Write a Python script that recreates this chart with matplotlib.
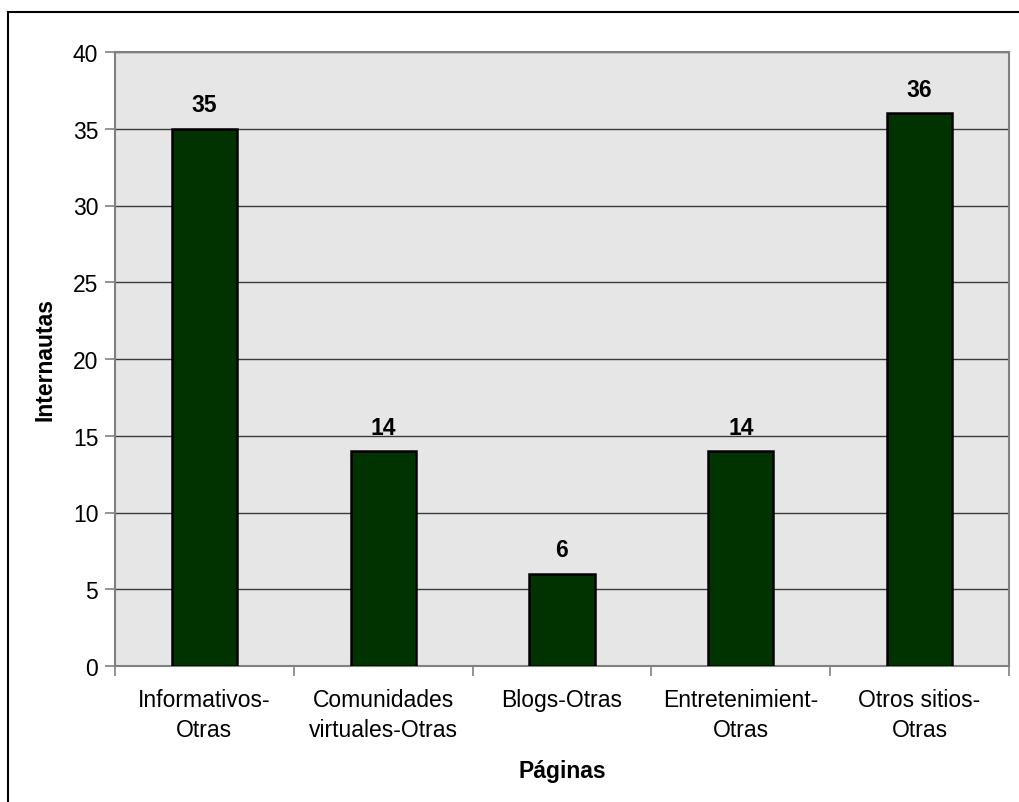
import matplotlib
matplotlib.use("Agg")
import matplotlib.pyplot as plt
from matplotlib.patches import Rectangle
from matplotlib.ticker import FixedLocator
import numpy as np

categories = ["Informativos-\nOtras", "Comunidades\nvirtuales-Otras", "Blogs-Otras",
              "Entretenimient-\nOtras", "Otros sitios-\nOtras"]
values = [35, 14, 6, 14, 36]
y_ticks = [0, 5, 10, 15, 20, 25, 30, 35, 40]

plt.rcParams['font.family'] = ['Liberation Sans', 'DejaVu Sans']

fig = plt.figure(figsize=(10.19, 8.03), dpi=100)
fig.patches.append(Rectangle((8/1019, -0.05), 1.2, 1 - 13/803 + 0.05,
                             transform=fig.transFigure, fill=False,
                             edgecolor='black', linewidth=1.5))

ax = fig.add_axes([115/1019, 1 - 667/803, 894/1019, 614/803])
ax.set_facecolor('#e6e6e6')
x = np.arange(len(categories))
ax.bar(x, values, width=0.365, color='#003300', edgecolor='black', linewidth=1.8, zorder=3)

ax.set_xlim(-0.5, len(categories) - 0.5)
ax.set_ylim(0, 40)
ax.set_yticks(y_ticks)
ax.yaxis.grid(True, color='#3a3a3a', linewidth=1.0, zorder=1)
ax.set_axisbelow(True)

ax.set_xticks(x)
ax.set_xticklabels(categories, fontsize=16.5, linespacing=1.4)
ax.tick_params(axis='x', which='major', length=0, pad=16)
ax.xaxis.set_minor_locator(FixedLocator(np.arange(len(categories) + 1) - 0.5))
ax.tick_params(axis='x', which='minor', length=7, width=1.2, color='#808080', direction='out')
ax.tick_params(axis='y', labelsize=16.5, length=7, width=1.2, color='#808080', pad=5)

for s in ['left', 'bottom', 'right', 'top']:
    ax.spines[s].set_color('#808080')
    ax.spines[s].set_linewidth(1.5)

for xi, v in zip(x, values):
    ax.annotate(str(v), (xi, v), xytext=(0, 9), textcoords='offset points',
                ha='center', va='bottom', fontsize=16.5, fontweight='bold')

ax.set_ylabel('Internautas', fontsize=16.5, fontweight='bold', labelpad=12)
ax.set_xlabel('Páginas', fontsize=16.5, fontweight='bold', labelpad=13)

fig.savefig('out.png', dpi=100)
